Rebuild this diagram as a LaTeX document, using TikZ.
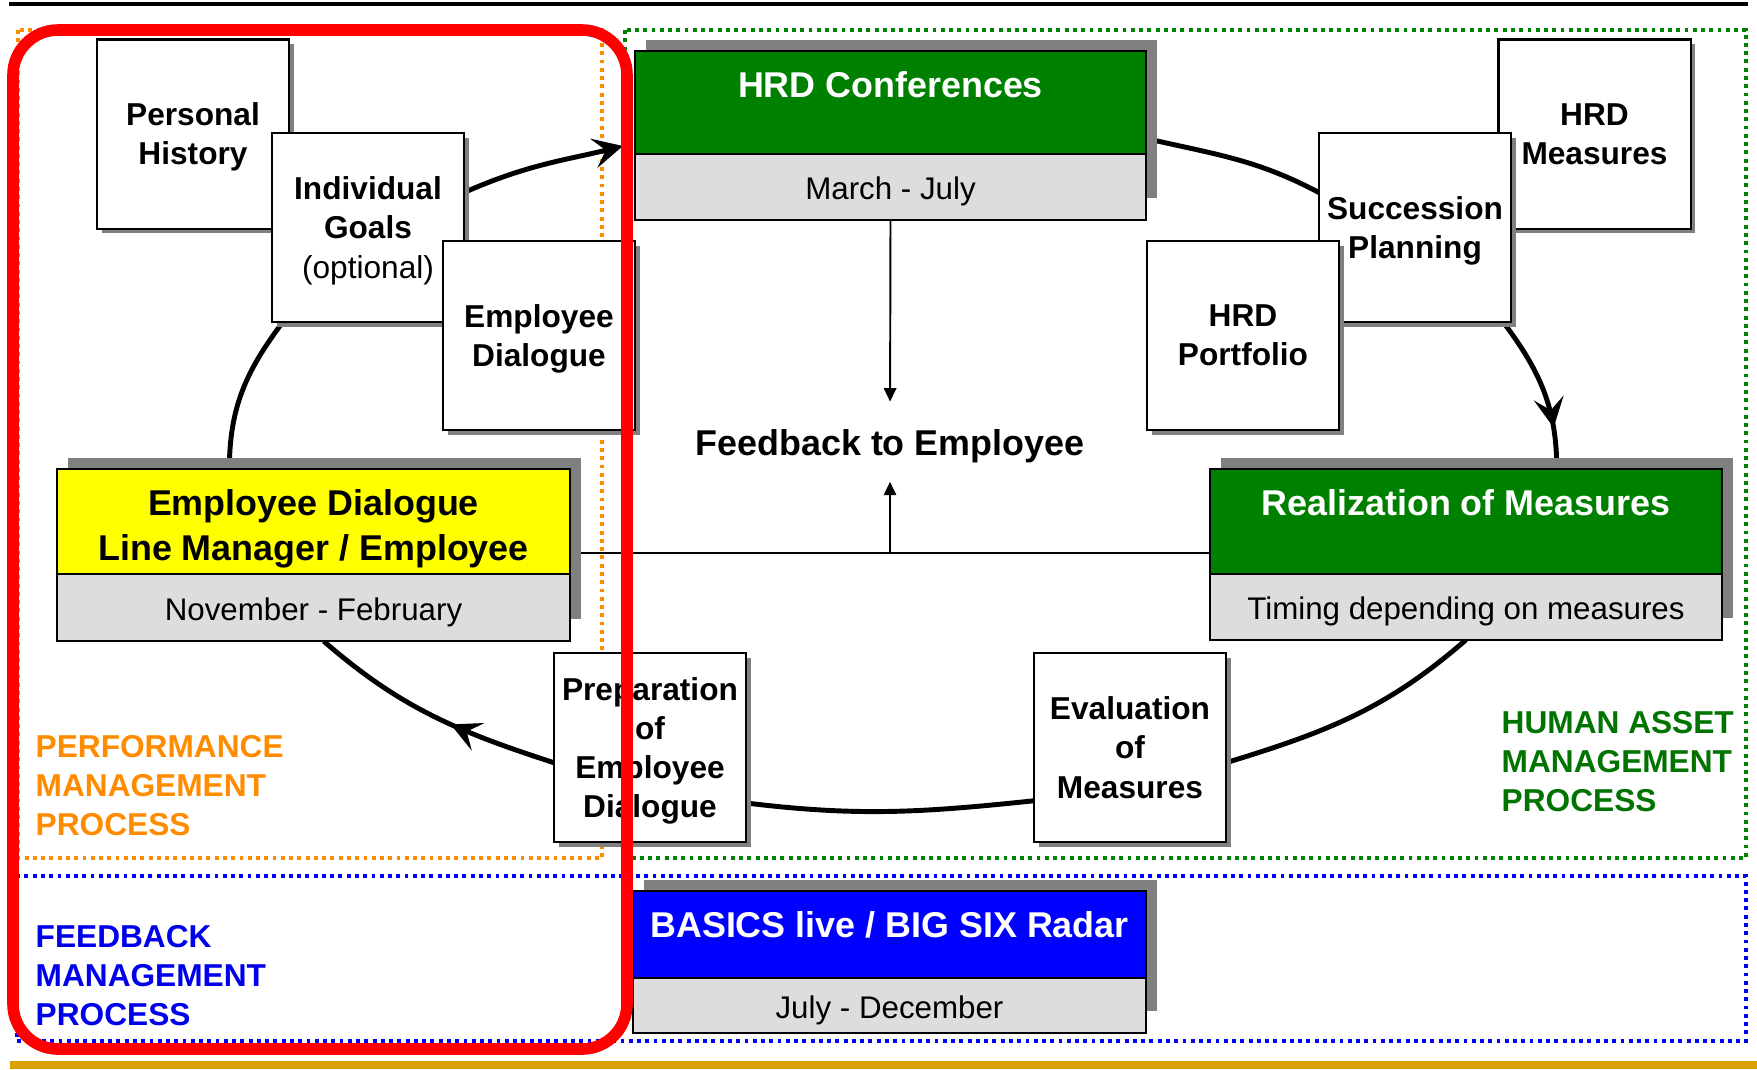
\documentclass[tikz,border=0pt]{standalone}
\usepackage{fontspec}
\setmainfont{Liberation Sans}
\usetikzlibrary{arrows.meta,positioning,shadows,decorations.markings}
\definecolor{hrdgreen}{RGB}{0,128,0}
\definecolor{hrdyellow}{RGB}{255,255,0}
\definecolor{hrdblue}{RGB}{0,0,255}
\definecolor{dategray}{RGB}{221,221,221}
\definecolor{shadegray}{RGB}{128,128,128}
\definecolor{perforange}{RGB}{255,140,0}
\definecolor{hamgreen}{RGB}{0,115,0}
\definecolor{fbblue}{RGB}{0,0,235}
\definecolor{frame}{RGB}{255,0,0}
\definecolor{gold}{RGB}{218,160,0}
\pgfdeclarelayer{back}
\pgfdeclarelayer{shade}
\pgfsetlayers{back,shade,main}
\begin{document}
\begin{tikzpicture}[x=0.01cm,y=-0.01cm,
	smallbox/.style={draw=black,line width=0.6pt,fill=white,minimum width=1.92cm,minimum height=1.89cm,inner sep=0pt,outer sep=0pt,align=center,text depth=0pt,font=\fontsize{9pt}{11.1pt}\selectfont\bfseries,general shadow={fill=shadegray,shadow xshift=1.4pt,shadow yshift=-1.4pt}},
	titlebox/.style={draw=black,line width=0.6pt,inner sep=0pt,outer sep=0pt,anchor=north,font=\fontsize{10.2pt}{12.8pt}\selectfont\bfseries},
	toptitle/.style={text=white,text height=13.2pt,text depth=#1},
	datebox/.style={draw=black,line width=0.6pt,fill=dategray,inner sep=0pt,outer sep=0pt,text height=7.2pt,text depth=0pt,font=\fontsize{8.9pt}{10.5pt}\selectfont},
	flow/.style={line width=1.4pt},
	flowtip/.style={-{Stealth[length=8.5pt,width=8.5pt,inset=3.5pt]}},
	midtip/.style={postaction={decorate},decoration={markings,mark=at position #1 with {\arrow{Stealth[length=8.5pt,width=8.5pt,inset=3.5pt]}}}},
	fbline/.style={line width=0.55pt},
	fbtip/.style={-{Triangle[length=3.8pt,width=3.5pt]}},
	region/.style={line width=1.1pt,dash pattern=on 1.1pt off 1.25pt},
	proclabel/.style={anchor=north west,inner sep=0pt,align=left,font=\fontsize{9pt}{11.1pt}\selectfont\bfseries}]
	\useasboundingbox (0,0) rectangle (1757,1069);
	\draw[line width=1.3pt] (9,4) -- (1748,4);
	\draw[line width=2.3pt,gold] (10,1065) -- (1757,1065);

	\node[smallbox] (history) at (193,134) {Personal\\History};
	\node[smallbox] (goals) at (368,227.5) {Individual\\Goals\\{\mdseries (optional)}};
	\node[smallbox] (empdlg) at (539,335.5) {Employee\\Dialogue};
	\node[smallbox] (hrdmeas) at (1594.5,134) {HRD\\Measures};
	\node[smallbox] (succ) at (1415,227.5) {Succession\\Planning};
	\node[smallbox] (portf) at (1243,335.5) {HRD\\Portfolio};
	\node[smallbox] (prep) at (650,747.5) {Preparation\\of\\Employee\\Dialogue};
	\node[smallbox] (evalm) at (1130,747.5) {Evaluation\\of\\Measures};

	\node[titlebox,toptitle=16.1pt,fill=hrdgreen,minimum width=5.11cm] (conf) at (890.5,51) {HRD Conferences};
	\node[datebox,minimum width=5.11cm,minimum height=0.66cm,below=0pt of conf] (confdate) {March - July};
	\node[titlebox,fill=hrdyellow,align=center,minimum width=5.13cm,text height=25.9pt,text depth=4pt] (dlg) at (313.5,469) {Employee Dialogue\\Line Manager / Employee};
	\node[datebox,minimum width=5.13cm,minimum height=0.67cm,below=0pt of dlg] (dlgdate) {November - February};
	\node[titlebox,toptitle=16.6pt,fill=hrdgreen,minimum width=5.12cm] (real) at (1466,469) {Realization of Measures};
	\node[datebox,minimum width=5.12cm,minimum height=0.66cm,below=0pt of real] (realdate) {Timing depending on measures};
	\node[titlebox,toptitle=11.5pt,fill=hrdblue,minimum width=5.13cm] (basics) at (889.5,891) {BASICS live / BIG SIX Radar};
	\node[datebox,minimum width=5.13cm,minimum height=0.55cm,below=0pt of basics] (basicsdate) {July - December};

	\node[anchor=base,inner sep=0pt,font=\fontsize{10.2pt}{12.6pt}\selectfont\bfseries] (fb) at (890,455) {Feedback to Employee};
	\coordinate (join) at (890,553);
	\draw[fbline,fbtip,shorten >=7.6pt] (confdate.south) -- (fb.north);
	\draw[fbline,fbtip,shorten >=5.3pt] (join) -- (fb.south);

	\node[proclabel,perforange] (perf) at (35,735) {PERFORMANCE\\MANAGEMENT\\PROCESS};
	\node[proclabel,hamgreen] (ham) at (1501,711) {HUMAN ASSET\\MANAGEMENT\\PROCESS};
	\node[proclabel,fbblue] (fbm) at (35,925) {FEEDBACK\\MANAGEMENT\\PROCESS};

	\begin{pgfonlayer}{shade}
	\foreach \t/\d in {conf/confdate,dlg/dlgdate,real/realdate,basics/basicsdate}
		\fill[shadegray] ([shift={(11,-11)}]\t.north west) rectangle ([shift={(11,-22)}]\d.south east);
	\end{pgfonlayer}

	\begin{pgfonlayer}{back}
	\draw[region,perforange] (18,30) rectangle (602,858);
	\draw[region,hrdgreen] (625,30) rectangle (1746,858);
	\draw[region,hrdblue] (17,876) rectangle (1746,1041);
	\draw[flow,flowtip,shorten >=3.5pt] (goals.20) to[out=24,in=194] (conf.189);
	\draw[flow] (conf.-8) to[out=-13,in=152] (succ.160);
	\draw[flow,midtip=0.74] (succ.-47) to[out=-53,in=90] (real.30);
	\draw[flow] (realdate.south) to[out=221,in=17] (evalm.-9);
	\draw[flow] (evalm.209) to[out=186,in=-7] (prep.-30);
	\draw[flow,midtip=0.42] (prep.189) to[out=162,in=-41] (dlgdate.-73);
	\draw[flow] (dlg.148) to[out=90,in=233] (goals.228);
	\draw[fbline] (dlg.east |- join) -- (real.west |- join);
	\end{pgfonlayer}

	\draw[line width=3.3pt,frame,rounded corners=0.45cm] (13,30) rectangle (627,1049);
\end{tikzpicture}
\end{document}
